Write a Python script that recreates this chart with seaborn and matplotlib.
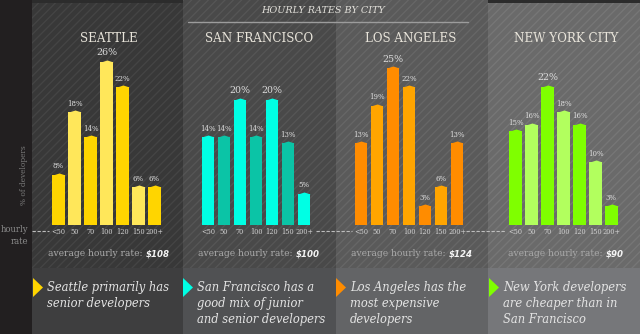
import matplotlib
matplotlib.use("Agg")
import matplotlib.pyplot as plt
from matplotlib.patches import Rectangle, Polygon
from matplotlib.path import Path
import seaborn as sns
import pandas as pd

# ---------------- data ----------------
rate_bins = ["<50", "50", "70", "100", "120", "150", "200+"]
cities = ["SEATTLE", "SAN FRANCISCO", "LOS ANGELES", "NEW YORK CITY"]
seattle = [8, 18, 14, 26, 22, 6, 6]
san_francisco = [14, 14, 20, 14, 20, 13, 5]
los_angeles = [13, 19, 25, 22, 3, 6, 13]
new_york = [15, 16, 22, 18, 16, 10, 3]
avg_rates = ["$108", "$100", "$124", "$90"]
notes = [
    "Seattle primarily has\nsenior developers",
    "San Francisco has a\ngood mix of junior\nand senior developers",
    "Los Angeles has the\nmost expensive\ndevelopers",
    "New York developers\nare cheaper than in\nSan Francisco",
]
title = "HOURLY RATES BY CITY"

series = [seattle, san_francisco, los_angeles, new_york]
pairs = [("#FFD500", "#FFE75A"), ("#00FFE4", "#0BC4A6"),
         ("#FF8C00", "#FFA500"), ("#7FFF00", "#B2FF5E")]

# ---------------- styling ----------------
sns.set_theme(style="white")
plt.rcParams["font.family"] = ["DejaVu Serif"]
plt.rcParams["hatch.linewidth"] = 0.9

W, H = 640, 334
fig = plt.figure(figsize=(6.4, 3.34), dpi=100)
fig.patch.set_facecolor("#221f20")

bg = fig.add_axes([0, 0, 1, 1])
bg.set_xlim(0, W)
bg.set_ylim(H, 0)
bg.axis("off")

panel_x = [(32, 183), (183, 336), (336, 488), (488, 640)]
panel_top = ["#383838", "#494949", "#5a5a5a", "#6a6a6a"]
panel_hatch = ["#454545", "#565656", "#676767", "#777777"]
panel_bot = ["#3e3e3f", "#505153", "#636466", "#76777a"]
for (x0, x1), ct, ch, cb in zip(panel_x, panel_top, panel_hatch, panel_bot):
    bg.add_patch(Rectangle((x0, 0), x1 - x0, 268, facecolor=ct, edgecolor=ch,
                           hatch="////", linewidth=0))
    bg.add_patch(Rectangle((x0, 268), x1 - x0, H - 268, facecolor=cb, linewidth=0))
# subtle shadows at the top of the outer panels
for x0, x1 in [(32, 183), (488, 640)]:
    bg.add_patch(Rectangle((x0, 0), x1 - x0, 3, facecolor="#2c2c2c", linewidth=0))

# title
bg.text(323, 10.5, title, ha="center", va="center", style="italic",
        fontsize=6.9, color="#e2e0da")
bg.plot([188, 468], [21.7, 21.7], color="#9c9c9c", lw=1.0)

# left strip labels
bg.text(24.5, 175, "% of developers", rotation=90, ha="center", va="center",
        fontsize=5.3, color="#7a7a7a")
bg.text(28.5, 230, "hourly", ha="right", va="center", fontsize=6.2, color="#8a8a8a")
bg.text(28.5, 241, "rate", ha="right", va="center", fontsize=6.2, color="#8a8a8a")

# dashed baseline segments
for x0, x1 in [(32, 49), (316, 352), (466, 506)]:
    bg.plot([x0, x1], [231, 231], color="#bdbdbd", lw=0.8, ls=(0, (3, 1.5)))

title_x = [108.5, 259, 411, 566]
avg_x = [48, 198, 351, 508]
tri_x = [33, 183, 336, 489]
note_x = [47, 197, 350, 503]

cap = Path([(-1, 0), (0, 0.32), (1, 0), (-1, 0)], closed=True)

for i, (vals, (c1, c2)) in enumerate(zip(series, pairs)):
    # city title
    bg.text(title_x[i], 38, cities[i], ha="center", va="center",
            fontsize=8.6, color="#e8e4da")
    # average hourly rate
    t = bg.text(avg_x[i], 254, "average hourly rate: ", ha="left", va="center",
                fontsize=6.6, color="#a9a9a9")
    bg.annotate(avg_rates[i], xy=(1, 0.5), xycoords=t, ha="left", va="center",
                fontsize=6.2, color="#f4f4f4", fontweight="bold", style="italic",
                family=["DejaVu Sans"])
    # callout
    bg.add_patch(Polygon([(tri_x[i], 278), (tri_x[i] + 10, 287.5), (tri_x[i], 297)],
                         closed=True, facecolor=c1, linewidth=0))
    bg.text(note_x[i], 281, notes[i], ha="left", va="top", style="italic",
            fontsize=8.3, color="#e4e4e4", linespacing=1.3)

    # bar chart
    centers0 = [58.5, 208, 361, 515.5][i]
    left = centers0 - 8
    ymax = 28
    ax = fig.add_axes([left / W, (H - 225) / H, 112 / W, ymax * 6.27 / H])
    ax.patch.set_alpha(0)
    df = pd.DataFrame({"rate": rate_bins, "pct": vals})
    palette = {b: (c1 if k % 2 == 0 else c2) for k, b in enumerate(rate_bins)}
    sns.barplot(data=df, x="rate", y="pct", hue="rate", palette=palette,
                order=rate_bins, hue_order=rate_bins, legend=False,
                width=0.78, saturation=1, linewidth=0, ax=ax)
    for k, v in enumerate(vals):
        col = c1 if k % 2 == 0 else c2
        ax.plot(k, v, marker=cap, markersize=9.0, color=col, markeredgewidth=0,
                linestyle="none")
        big = v == max(vals)
        ax.text(k, v + (0.75 if big else 0.7), f"{v}%", ha="center", va="bottom",
                fontsize=6.8 if big else 5.0, color="#dcdcdc")
    ax.set_xlim(-0.5, 6.5)
    ax.set_ylim(0, ymax)
    ax.set_xlabel("")
    ax.set_ylabel("")
    ax.set_yticks([])
    for s in ax.spines.values():
        s.set_visible(False)
    ax.tick_params(axis="x", length=0, pad=2.5, labelsize=4.8, labelcolor="#d0d0d0")

fig.savefig("out.png", dpi=100, facecolor=fig.get_facecolor())
